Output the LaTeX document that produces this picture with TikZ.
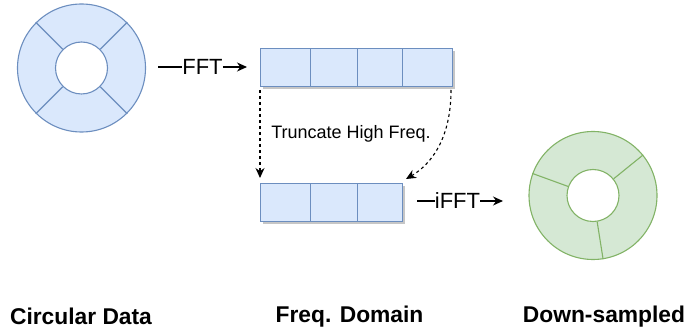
\documentclass[tikz,border=0pt]{standalone}
\usepackage{fontspec}
\setmainfont{Liberation Sans}
\usetikzlibrary{arrows.meta}
\definecolor{bfill}{HTML}{DAE8FC}
\definecolor{bline}{HTML}{6C8EBF}
\definecolor{gfill}{HTML}{D5E8D4}
\definecolor{gline}{HTML}{82B366}
\definecolor{shad}{HTML}{A0A0A0}
\tikzset{
  ringouter/.style={circle, draw=#1line, fill=#1fill, line width=1.1pt, minimum size=128pt, inner sep=0pt},
  ringinner/.style={circle, draw=#1line, fill=white, line width=1.1pt, minimum size=52pt, inner sep=0pt},
  divider/.style={draw=#1line, line width=1.1pt},
  cellbox/.style={draw=bline, fill=bfill, line width=1.1pt},
  shadowbox/.style={fill=shad, opacity=0.6},
  lbl/.style={inner sep=0pt, font=\fontsize{22}{24}\selectfont},
  trunc/.style={inner sep=0pt, font=\fontsize{18}{20}\selectfont},
  title/.style={inner sep=0pt, font=\bfseries\fontsize{22.8}{25}\selectfont},
  conn/.style={line width=1.1pt},
  dasharrow/.style={line width=1.1pt, dashed, dash pattern=on 3pt off 3pt, -{Stealth[length=10pt,width=9pt]}},
}
\begin{document}
\begin{tikzpicture}[x=1pt,y=-1pt]
\useasboundingbox (0,0) rectangle (687,336);
% blue ring
\node[ringouter=b] (r1) at (81.5,68) {};
\node[ringinner=b] (i1) at (81.5,68) {};
\foreach \a in {45,135,225,315} \draw[divider=b] (i1.\a) -- (r1.\a);
% green ring
\node[ringouter=g] (r2) at (593,195.5) {};
\node[ringinner=g] (i2) at (593,195.5) {};
\foreach \a in {39,160,-81} \draw[divider=g] (i2.\a) -- (r2.\a);
% top cells
\foreach \xa/\xb in {260/310,310/357,357/402,402/452}
  \fill[shadowbox] (\xa+3,51) rectangle (\xb+3,89);
\node[cellbox, minimum width=50pt, minimum height=38pt, inner sep=0pt, anchor=north west] (t1) at (260,48) {};
\node[cellbox, minimum width=47pt, minimum height=38pt, inner sep=0pt, anchor=north west] (t2) at (310,48) {};
\node[cellbox, minimum width=45pt, minimum height=38pt, inner sep=0pt, anchor=north west] (t3) at (357,48) {};
\node[cellbox, minimum width=50pt, minimum height=38pt, inner sep=0pt, anchor=north west] (t4) at (402,48) {};
% bottom cells
\foreach \xa/\xb in {260/310,310/357,357/402}
  \fill[shadowbox] (\xa+3,186) rectangle (\xb+3,224);
\node[cellbox, minimum width=50pt, minimum height=38pt, inner sep=0pt, anchor=north west] (b1) at (260,183) {};
\node[cellbox, minimum width=47pt, minimum height=38pt, inner sep=0pt, anchor=north west] (b2) at (310,183) {};
\node[cellbox, minimum width=45pt, minimum height=38pt, inner sep=0pt, anchor=north west] (b3) at (357,183) {};
% FFT
\node[lbl] (fft) at (202.5,67) {FFT};
\coordinate (fftL) at (158,67);
\coordinate (fftR) at (247,67);
\draw[conn] (fftL) -- (fft.west);
\draw[conn, -{Stealth[length=10pt,width=9pt]}] (fft.east) -- (fftR);
% iFFT
\node[lbl] (ifft) at (457.5,201) {iFFT};
\coordinate (ifftL) at (417,201);
\coordinate (ifftR) at (503,201);
\draw[conn] (ifftL) -- (ifft.west);
\draw[conn, -{Stealth[length=10pt,width=9pt]}] (ifft.east) -- (ifftR);
% truncate
\node[trunc] (tr) at (351,134) {Truncate High Freq.};
\coordinate (dl0) at (260,90);
\coordinate (dl1) at (260,178);
\coordinate (dr0) at (451,90);
\coordinate (dr1) at (406,179);
\draw[dasharrow] (dl0) -- (dl1);
\draw[dasharrow] (dr0) .. controls (451,140) and (430,165) .. (dr1);
% titles
\node[title] (c1) at (81,316.5) {Circular Data};
\node[title] (c2) at (349.5,316.5) {Freq. Domain};
\node[title] (c3) at (604,316.5) {Down-sampled};
\end{tikzpicture}
\end{document}
